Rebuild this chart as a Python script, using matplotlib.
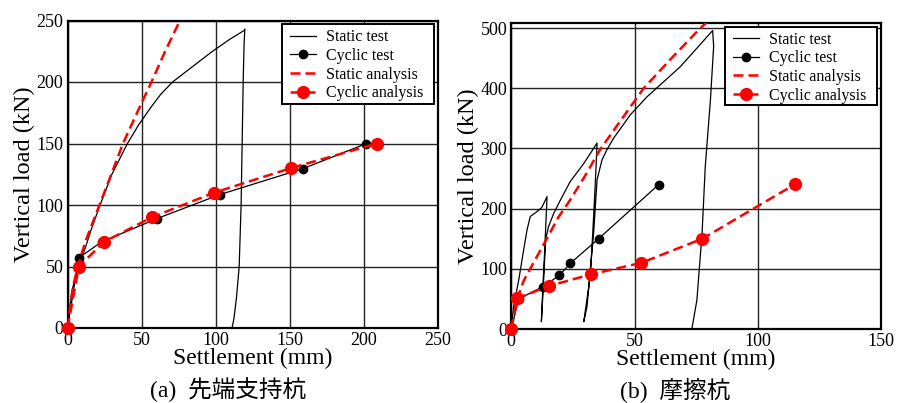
import matplotlib
matplotlib.use("Agg")
import matplotlib.pyplot as plt
from matplotlib.lines import Line2D
from matplotlib.patches import Rectangle

plt.rcParams['font.family'] = ['Liberation Serif', 'Noto Sans CJK JP']

# ---- (a) end-bearing pile ----
a_static_test_x = [0, 1, 2, 3, 5, 8, 12, 16, 22, 30, 40.5, 48, 56.7, 63, 71, 85, 98, 110, 119.5, 119.8,
                   119.3, 118.7, 117.3, 116, 114.2, 112.5, 111.2]
a_static_test_y = [0, 10, 20, 30, 40, 52, 65, 80, 100, 125, 150, 165, 180, 190, 200, 213, 225, 235, 242, 243,
                   230, 200, 100, 50, 25, 8, 0]
a_static_an_x = [0, 2, 4, 7, 12, 20, 28, 37.5, 47, 56.7, 66, 76, 80]
a_static_an_y = [0, 20, 35, 50, 70, 95, 120, 150, 175, 200, 225, 250, 258]
a_cyc_test_x = [0, 7.6, 23, 60.6, 103, 159, 202]
a_cyc_test_y = [0, 57, 70, 89, 108.5, 129.5, 150]
a_cyc_an_x = [0, 7.7, 24.7, 57, 99, 151, 209]
a_cyc_an_y = [0, 50, 70, 90, 110, 130, 150]

# ---- (b) friction pile ----
b_static_test_x = [0, 0.9, 3, 5, 6.4, 7.7, 10.4, 12.4, 14.5,
                   14.2, 13.5, 12.8, 12.2,
                   13.0, 13.9, 15.1, 17.2, 19.9, 23.9, 29.4, 34.8,
                   34.4, 33.4, 32.3, 30.7, 29.4,
                   31.4, 33.4, 34.8, 36.8, 38.8, 41.5, 48.3, 55.1, 68.6, 81.7,
                   82.1, 80.8, 78.7, 77.4, 75.3, 73.3]
b_static_test_y = [0, 37, 81, 131, 165, 187, 195, 202, 220,
                   192, 126, 70, 12,
                   70, 148, 170, 192, 214, 245, 275, 309,
                   270, 187, 104, 37, 12,
                   70, 159, 248, 281, 298, 317, 356, 386, 436, 496,
                   470, 381, 270, 159, 48, 1]
b_static_an_x = [0, 2, 5, 9, 14.4, 19, 23.8, 30, 36, 45, 53.7, 65, 76.7, 80]
b_static_an_y = [0, 45, 80, 110, 150, 185, 214, 255, 298, 350, 400, 450, 500, 512]
b_cyc_test_x = [0, 3, 12.7, 19.5, 23.9, 35.4, 59.8]
b_cyc_test_y = [0, 50, 70, 89, 109, 150, 240]
b_cyc_an_x = [0, 2.4, 15.3, 32.5, 52.8, 77.5, 115.1]
b_cyc_an_y = [0, 51, 71.5, 91, 110, 150, 240.5]

legend_labels = ["Static test", "Cyclic test", "Static analysis", "Cyclic analysis"]
captions = ["(a)  先端支持杭", "(b)  摩擦杭"]

W, H = 897, 403
fig = plt.figure(figsize=(W / 100, H / 100), dpi=100)

def box(l, t, r, b):
    return [l / W, 1 - b / H, (r - l) / W, (b - t) / H]

ax1 = fig.add_axes(box(67.5, 20.5, 437.5, 328))
ax2 = fig.add_axes(box(511.3, 23.3, 881, 329))

def style(ax, xlim, ylim, xt, yt):
    ax.set_xlim(*xlim)
    ax.set_ylim(*ylim)
    ax.set_xticks(xt)
    ax.set_yticks(yt)
    ax.grid(True, color='#222222', linewidth=1.0)
    ax.set_axisbelow(True)
    ax.tick_params(length=0, labelsize=13, pad=3)
    for s in ax.spines.values():
        s.set_linewidth(1.6)
        s.set_color('black')
    ax.set_xlabel("Settlement (mm)", fontsize=17, labelpad=-1)
    ax.set_ylabel("Vertical load (kN)", fontsize=17.5, labelpad=1)

def draw(ax, st_x, st_y, sa_x, sa_y, ct_x, ct_y, ca_x, ca_y):
    ax.plot(st_x, st_y, color='black', lw=0.9, zorder=3, clip_on=True)
    ax.plot(ct_x, ct_y, color='black', lw=0.9, marker='o', ms=6, zorder=4, clip_on=False)
    ax.plot(sa_x, sa_y, color='red', lw=1.8, ls=(0, (4, 2)), zorder=5)
    ax.plot(ca_x, ca_y, color='red', lw=1.8, ls=(0, (4, 2)), marker='o', ms=8.5, zorder=6, clip_on=False)

style(ax1, (0, 250), (0, 250), range(0, 251, 50), range(0, 251, 50))
draw(ax1, a_static_test_x, a_static_test_y, a_static_an_x, a_static_an_y,
     a_cyc_test_x, a_cyc_test_y, a_cyc_an_x, a_cyc_an_y)
style(ax2, (0, 150), (0, 508), range(0, 151, 50), range(0, 501, 100))
draw(ax2, b_static_test_x, b_static_test_y, b_static_an_x, b_static_an_y,
     b_cyc_test_x, b_cyc_test_y, b_cyc_an_x, b_cyc_an_y)

handles = [
    Line2D([], [], color='black', lw=0.9),
    Line2D([], [], color='black', lw=0.9, marker='o', ms=6),
    Line2D([], [], color='red', lw=1.8, ls=(0, (4, 2))),
    Line2D([], [], color='red', lw=1.8, ls=(0, (4, 2)), marker='o', ms=8.5),
]

# legend frames (pixel boxes) and legend anchor (pixel, top-left of handle column)
legend_boxes = [(281.7, 24, 434, 104), (724.7, 26.7, 877, 105.3)]
legend_anchor = [(290, 29.2), (733, 31.5)]
for ax, (l, t, r, b), (ax_px, ay_px) in zip((ax1, ax2), legend_boxes, legend_anchor):
    rect = Rectangle((l / W, 1 - b / H), (r - l) / W, (b - t) / H, transform=fig.transFigure,
                     facecolor='white', edgecolor='black', linewidth=1.4, zorder=10)
    fig.add_artist(rect)
    leg = fig.legend(handles, legend_labels, loc='upper left', fontsize=11.5,
                     frameon=False, handlelength=1.65, handletextpad=0.6, borderpad=0,
                     borderaxespad=0, labelspacing=0.17,
                     bbox_to_anchor=(ax_px / W, 1 - ay_px / H), bbox_transform=fig.transFigure)
    leg.set_zorder(11)

fig.text(228 / W, 1 - 390 / H, captions[0], ha='center', va='center', fontsize=17)
fig.text(675 / W, 1 - 390 / H, captions[1], ha='center', va='center', fontsize=17)

fig.savefig("out.png", dpi=100)
